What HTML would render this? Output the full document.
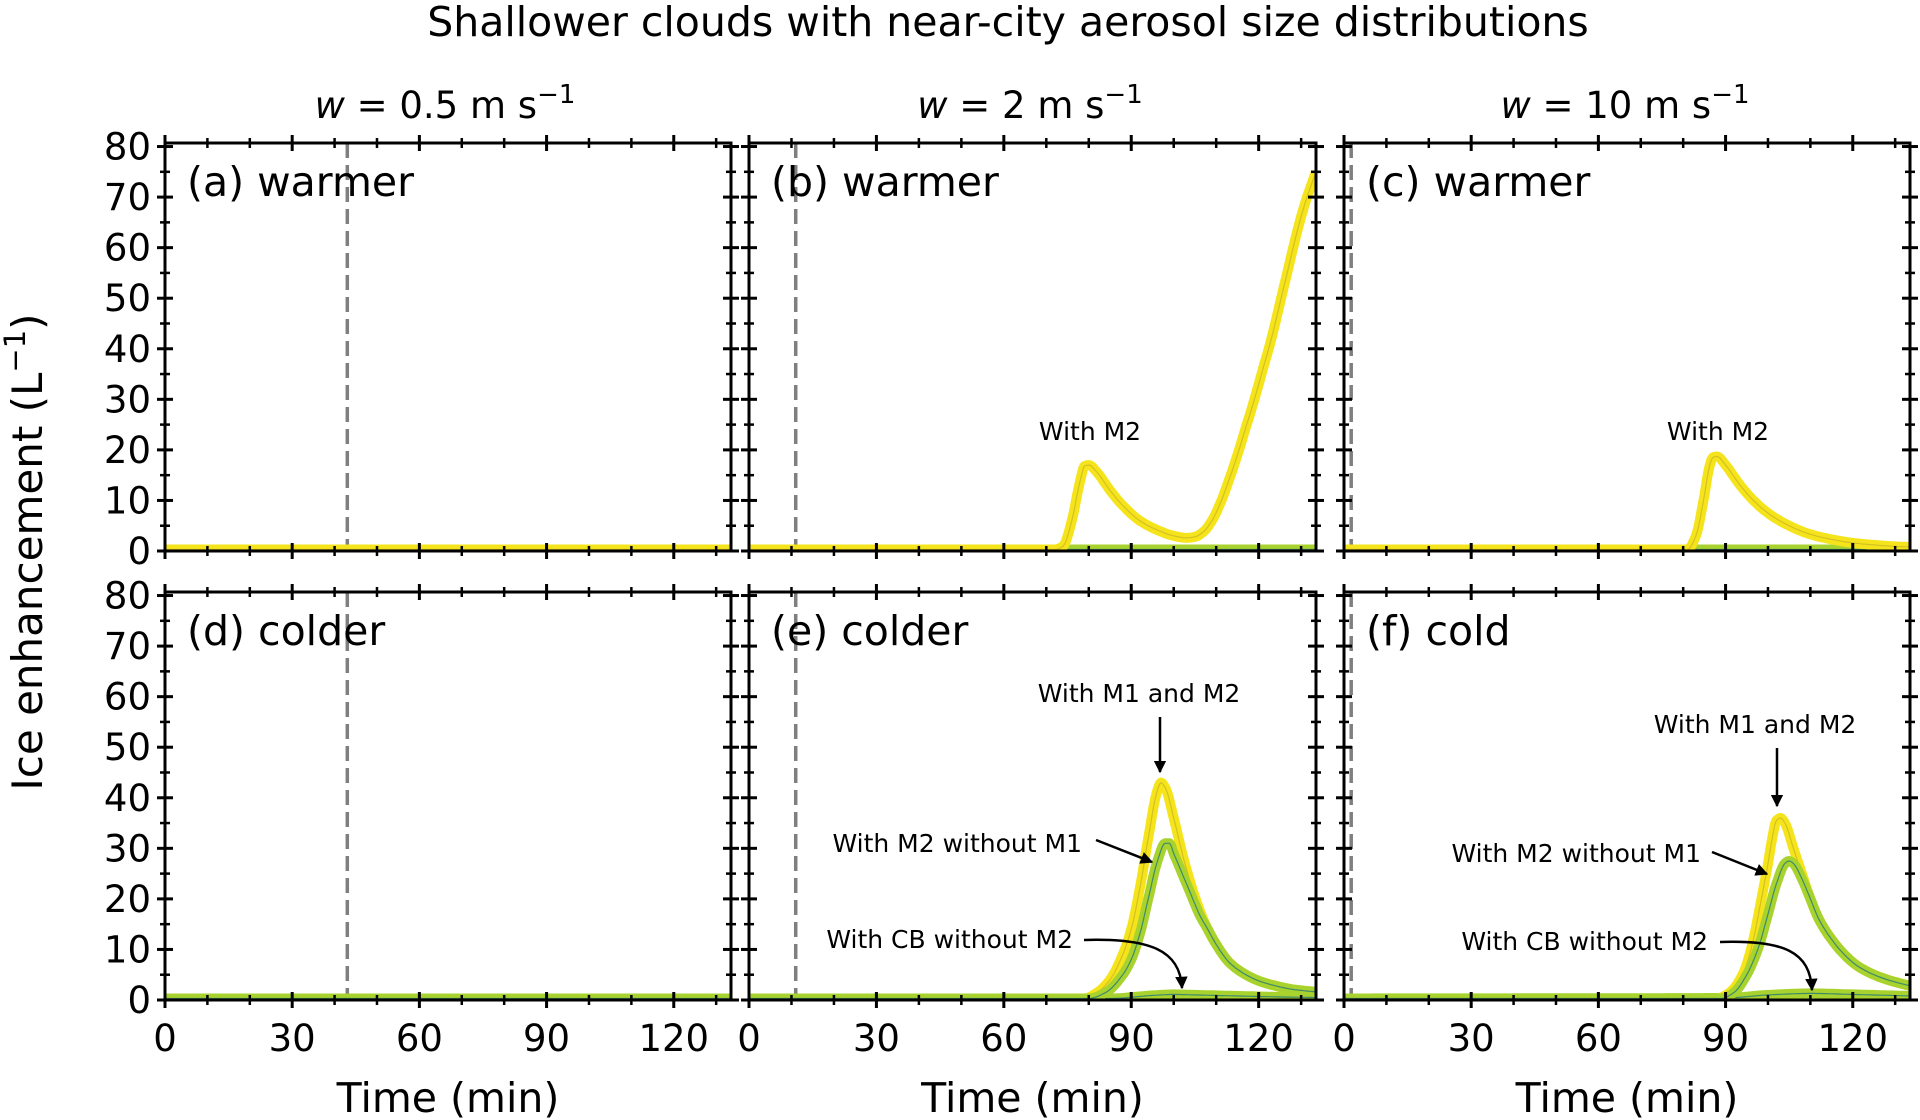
<!DOCTYPE html>
<html><head><meta charset="utf-8">
<style>
html,body{margin:0;padding:0;background:#fff;}
svg{display:block;font-family:"DejaVu Sans","Liberation Sans",sans-serif;}
</style></head>
<body>
<svg id="fig" width="1920" height="1120" viewBox="0 0 1920 1120" xmlns="http://www.w3.org/2000/svg">
<rect width="1920" height="1120" fill="#fff"/>
<text x="1008" y="36" font-size="41" text-anchor="middle">Shallower clouds with near-city aerosol size distributions</text>
<text x="445" y="118" font-size="37" text-anchor="middle"><tspan font-style="italic">w</tspan> = 0.5 m s<tspan font-size="26" dy="-15">−1</tspan></text>
<text x="1030" y="118" font-size="37" text-anchor="middle"><tspan font-style="italic">w</tspan> = 2 m s<tspan font-size="26" dy="-15">−1</tspan></text>
<text x="1625" y="118" font-size="37" text-anchor="middle"><tspan font-style="italic">w</tspan> = 10 m s<tspan font-size="26" dy="-15">−1</tspan></text>
<text transform="translate(42,552) rotate(-90)" font-size="42" text-anchor="middle">Ice enhancement (L<tspan font-size="29" dy="-17">−1</tspan><tspan dy="17">)</tspan></text>
<g id="panels"></g>
</svg>
<script>
// ---- data ----
const xTicks = [0, 30, 60, 90, 120];
const yTicks = [0, 10, 20, 30, 40, 50, 60, 70, 80];
const panelLabels = ["(a) warmer", "(b) warmer", "(c) warmer", "(d) colder", "(e) colder", "(f) cold"];
const dashTimes = [43, 11, 1.7, 43, 11, 1.7];

const flatT = [0, 133.5];
const flatV = [0.3, 0.3];

const bYellowT = [0,72,74,76,78,79,80,82,85,88,92,96,100,103,105,107,109,111,113,115,117,119,121,123,125,127,129,131,133.5];
const bYellowV = [0.3,0.3,1,6,14,16.8,17,15.5,12,9,6,4.2,3,2.6,2.8,3.8,6,9.5,14,19,24.5,30,36,42,49,56,63,69,75];

const cYellowT = [0,81,83,85,86,87,88,90,93,96,100,105,110,115,120,125,130,133.5];
const cYellowV = [0.3,0.3,3,11,16,18.5,18.7,17,13.5,10.5,7.5,5,3.3,2.3,1.6,1.2,0.9,0.8];

const eYellowT = [0,79,82,85,88,90,92,94,96,97,98,100,102,104,106,108,110,113,116,120,124,128,133.5];
const eYellowV = [0.3,0.3,1.5,4,9,14,22,32,41,43,42,36,29,23,18,14,11,7.5,5.5,3.8,2.8,2.1,1.6];
const eGreenT = [0,80,84,88,90,92,94,96,98,99,100,102,104,106,108,110,113,116,120,124,128,133.5];
const eGreenV = [0.3,0.3,1.5,5,8,13,20,27,31,31,29,25,21,17,14,11,7.5,5.5,3.8,2.8,2.1,1.6];
const eCbT = [0,85,95,100,105,115,125,133.5];
const eCbV = [0.3,0.3,0.9,1.1,1.0,0.8,0.6,0.5];

const fYellowT = [0,88,91,94,96,98,100,101,102,103,104,106,108,110,112,115,118,121,125,129,133.5];
const fYellowV = [0.3,0.3,1.5,5,10,18,27,32,35.5,36,35,30,25,20,16,12,9,6.8,5,3.8,2.8];
const fGreenT = [0,89,92,95,98,100,102,104,105,106,108,110,112,115,118,121,125,129,133.5];
const fGreenV = [0.3,0.3,1.5,5,11,17,23,27,27.5,27,24,20,16,12,9,6.8,5,3.8,2.8];
const fCbT = [0,90,100,110,120,133.5];
const fCbV = [0.3,0.4,1,1.3,1.1,0.8];

// ---- layout ----
const NS = "http://www.w3.org/2000/svg";
const cols = [[165,731],[749,1316],[1344,1910]];
const rows = [[143,551],[592,1000]];
const XMAX = 133.5, YMAX = 80.7;
const root = document.getElementById('panels');

function mk(tag, attrs, parent){
  const e = document.createElementNS(NS, tag);
  for (const k in attrs) e.setAttribute(k, attrs[k]);
  (parent||root).appendChild(e);
  return e;
}
function monotone(T, V){
  const n = T.length;
  if (n < 3) return T.map((t,i)=>[t,V[i]]);
  const d = [], m = new Array(n);
  for (let i=0;i<n-1;i++) d.push((V[i+1]-V[i])/(T[i+1]-T[i]));
  m[0]=d[0]; m[n-1]=d[n-2];
  for (let i=1;i<n-1;i++){
    if (d[i-1]*d[i] <= 0) m[i]=0;
    else { const w1 = 2*(T[i+1]-T[i])+(T[i]-T[i-1]), w2 = (T[i+1]-T[i])+2*(T[i]-T[i-1]);
      m[i] = (w1+w2)/(w1/d[i-1]+w2/d[i]); }
  }
  const out = [];
  for (let i=0;i<n-1;i++){
    const h = T[i+1]-T[i], steps = Math.max(2, Math.ceil(h*3));
    for (let s=0;s<steps;s++){
      const u = s/steps, u2=u*u, u3=u2*u;
      const v = (2*u3-3*u2+1)*V[i] + (u3-2*u2+u)*h*m[i] + (-2*u3+3*u2)*V[i+1] + (u3-u2)*h*m[i+1];
      out.push([T[i]+u*h, v]);
    }
  }
  out.push([T[n-1], V[n-1]]);
  return out;
}

const series = [
  [[flatT,flatV,'g'],[flatT,flatV,'y']],
  [[flatT,flatV,'g'],[bYellowT,bYellowV,'y']],
  [[flatT,flatV,'g'],[cYellowT,cYellowV,'y']],
  [[flatT,flatV,'y'],[flatT,flatV,'g']],
  [[eCbT,eCbV,'g'],[eYellowT,eYellowV,'y'],[eGreenT,eGreenV,'g']],
  [[fCbT,fCbV,'g'],[fYellowT,fYellowV,'y'],[fGreenT,fGreenV,'g']]
];

for (let p=0;p<6;p++){
  const r = Math.floor(p/3), c = p%3;
  const [x0,x1] = cols[c], [y0,y1] = rows[r];
  const sx = t => x0 + (t/XMAX)*(x1-x0);
  const sy = v => y1 - (v/YMAX)*(y1-y0);
  const g = mk('g', {});
  
  
  const clipId = 'clip'+p;
  const cp = mk('clipPath', {id:clipId}, g);
  mk('rect', {x:x0, y:y0-4, width:x1-x0, height:y1-y0+4}, cp);

  const dl = mk('line', {x1:sx(dashTimes[p]), x2:sx(dashTimes[p]), y1:y0, y2:y1, stroke:'#7f7f7f', 'stroke-width':3.5, 'stroke-dasharray':'15,7'}, g);
  
  

  const sg = mk('g', {'clip-path':'url(#'+clipId+')'}, g);
  series[p].forEach(([T,V,col]) => {
    const pts = monotone(T,V).map(([t,v])=>[sx(t), sy(v)]);
    const d = "M" + pts.map(q=>q[0].toFixed(1)+","+q[1].toFixed(1)).join(" L");
    const outer = mk('path', {d:d, fill:'none', stroke: col==='y' ? '#f5e41c' : '#a8d22e', 'stroke-width':10, 'stroke-linejoin':'round'}, sg);
    
    
    mk('path', {d:d, fill:'none', stroke: col==='y' ? '#d4c020' : '#3f8a6a', 'stroke-width':1.2}, sg);
  });

  const fr = mk('rect', {x:x0, y:y0, width:x1-x0, height:y1-y0, fill:'none', stroke:'#000', 'stroke-width':3}, g);
  
  

  for (let t=0;t<=XMAX;t+=10){
    const major = t%30===0, L = major?8:5, X = sx(t);
    mk('line', {x1:X,x2:X,y1:y1-L,y2:y1+L,stroke:'#000','stroke-width':major?3:2.5}, g);
    mk('line', {x1:X,x2:X,y1:y0-L,y2:y0+L,stroke:'#000','stroke-width':major?3:2.5}, g);
  }
  for (let v=0;v<=80;v+=5){
    const major = v%10===0, L = major?8:5, Y = sy(v);
    mk('line', {x1:x0-L,x2:x0+L,y1:Y,y2:Y,stroke:'#000','stroke-width':major?3:2.5}, g);
    mk('line', {x1:x1-L,x2:x1+L,y1:Y,y2:Y,stroke:'#000','stroke-width':major?3:2.5}, g);
  }
  if (c===0){
    yTicks.forEach(v=>{
      const tl = mk('text', {x:x0-14, y:sy(v)+13, 'font-size':37, 'text-anchor':'end'}, g);
      tl.textContent = v;
      
      
    });
  }
  if (r===1){
    xTicks.forEach(t=>{
      const tl = mk('text', {x:sx(t), y:1051, 'font-size':37, 'text-anchor':'middle'}, g);
      tl.textContent = t;
      
      
    });
    const xt = mk('text', {x:(x0+x1)/2, y:1112, 'font-size':41, 'text-anchor':'middle'}, g);
    xt.textContent = 'Time (min)';
    
    
  }
  const pl = mk('text', {x:x0+22, y:y0+53, 'font-size':41}, g);
  pl.textContent = panelLabels[p];
  
  
}

const ann = mk('g', {});


const defs = mk('defs', {}, ann);
const mrk = mk('marker', {id:'ah', viewBox:'0 0 10 10', refX:9, refY:5, markerWidth:5, markerHeight:5, orient:'auto', markerUnits:'strokeWidth'}, defs);
mk('path', {d:'M0,0 L10,5 L0,10 Z', fill:'#000'}, mrk);
function txt(x,y,s,anchor,name){
  const t = mk('text', {x:x, y:y, 'font-size':25, 'text-anchor':anchor}, ann);
  t.textContent = s;
  
  
}
function arrow(d,name){
  const a = mk('path', {d:d, fill:'none', stroke:'#000', 'stroke-width':2.5, 'marker-end':'url(#ah)'}, ann);
  
  
}
txt(1090,440,'With M2','middle','label-with-m2-b');
txt(1718,440,'With M2','middle','label-with-m2-c');
txt(1139,702,'With M1 and M2','middle','label-m1-m2-e');
arrow('M1160,717 L1160,772','arrow-m1-m2-e');
txt(1082,852,'With M2 without M1','end','label-m2-no-m1-e');
arrow('M1096,840 L1152,862','arrow-m2-no-m1-e');
txt(1073,948,'With CB without M2','end','label-cb-e');
arrow('M1084,940 C1150,938 1180,950 1182,988','arrow-cb-e');
txt(1755,733,'With M1 and M2','middle','label-m1-m2-f');
arrow('M1777,748 L1777,806','arrow-m1-m2-f');
txt(1701,862,'With M2 without M1','end','label-m2-no-m1-f');
arrow('M1712,852 L1767,874','arrow-m2-no-m1-f');
txt(1708,950,'With CB without M2','end','label-cb-f');
arrow('M1720,942 C1785,940 1810,952 1812,990','arrow-cb-f');
</script>
</body></html>
